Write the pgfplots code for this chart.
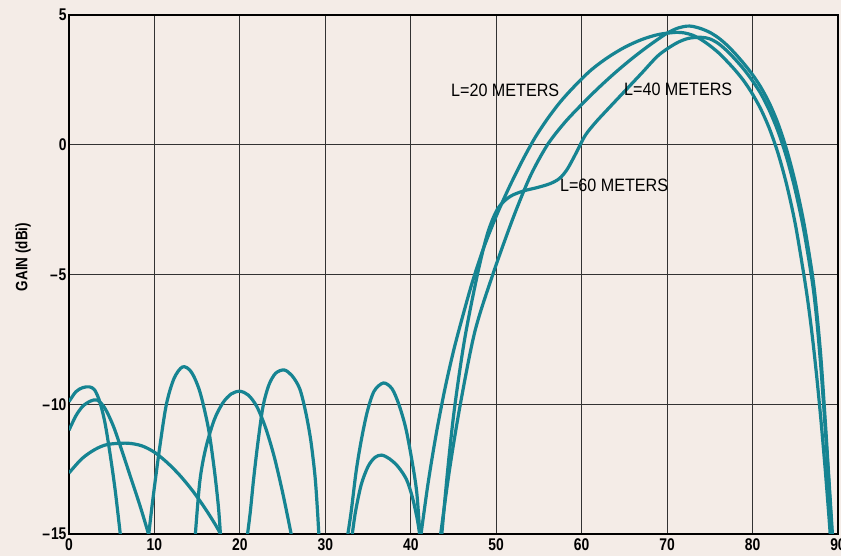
\documentclass[border=0pt]{standalone}
\usepackage{fontspec}
\setmainfont{Liberation Sans}
\newfontfamily\condfont{Liberation Sans}[FakeStretch=0.9]
\newfontfamily\condbold{Liberation Sans Bold}[FakeStretch=0.82]
\usepackage{pgfplots}
\pgfplotsset{compat=1.18}
\usetikzlibrary{backgrounds}
\definecolor{paper}{RGB}{244,236,231}
\definecolor{teal1}{RGB}{22,132,146}
\definecolor{gridc}{RGB}{50,50,50}
\pgfplotsset{curve/.style={color=teal1, line width=3.2bp, smooth, tension=0.5, no markers}}
\newcommand{\mn}{\textendash\kern1bp}
\begin{document}
\begin{tikzpicture}[show background rectangle, background rectangle/.style={fill=paper,draw=none}, inner frame sep=0pt]
\path[use as bounding box] (0,0) rectangle (841bp,556bp);
\begin{axis}[at={(69bp,22bp)}, anchor=south west, scale only axis,
  width=769bp, height=519bp,
  xmin=0, xmax=90, ymin=-15, ymax=5,
  xtick={0,10,...,90}, ytick={-15,-10,-5,0,5},
  xticklabels={0,10,20,30,40,50,60,70,80,90},
  yticklabels={\mn15,\mn10,\mn5,0,5},
  grid=major, major grid style={gridc, line width=1.2bp},
  axis line style={black, line width=2bp},
  major tick length=0pt,
  ticklabel style={font=\fontsize{17}{17}\selectfont\condbold},
  yticklabel style={xshift=1bp},
  xticklabel style={yshift=-1bp},
]
% ---- side lobes ----
% curve A (L=20)
\addplot[curve] coordinates {(0,-12.65)(1.5,-12.1)(3,-11.75)(4.5,-11.55)(6.8,-11.5)(8.5,-11.6)(10,-11.85)(11.5,-12.25)(13,-12.75)(14.5,-13.35)(16,-14.05)(17.5,-14.85)(18.2,-15.4)};
\addplot[curve] coordinates {(20.7,-15.5)(21.2,-14.2)(21.6,-12.9)(22.1,-11.5)(22.7,-10.1)(23.4,-9.25)(24.2,-8.8)(25.2,-8.68)(26.1,-8.9)(27.0,-9.4)(27.7,-10.3)(28.3,-11.4)(28.8,-12.8)(29.1,-14.2)(29.3,-15.4)};
\addplot[curve] coordinates {(32.4,-15.5)(33.0,-14.2)(33.6,-12.6)(34.2,-11.4)(34.9,-10.3)(35.7,-9.5)(36.8,-9.18)(37.8,-9.4)(38.6,-10.0)(39.4,-10.9)(40.1,-12.1)(40.7,-13.4)(41.1,-15.2)};
% curve B (L=40)
\addplot[curve] coordinates {(0,-9.9)(0.8,-9.52)(1.6,-9.36)(2.4,-9.33)(3.0,-9.45)(3.6,-9.9)(4.2,-10.7)(4.8,-11.9)(5.4,-13.3)(6.0,-15)(6.25,-15.8)};
\addplot[curve] coordinates {(14.7,-15.4)(15.3,-13.0)(16,-11.7)(17,-10.6)(18,-9.95)(19,-9.6)(20,-9.5)(21,-9.65)(22,-10.1)(23,-10.9)(24,-12.0)(25,-13.4)(26,-15)(26.2,-15.4)};
\addplot[curve] coordinates {(33.0,-15.4)(33.5,-14.2)(34.2,-13.1)(35.0,-12.4)(35.8,-12.05)(36.6,-11.96)(37.5,-12.1)(38.5,-12.4)(39.5,-12.9)(40.2,-13.6)(40.8,-14.5)(41.2,-15.4)};
% curve C (L=60)
\addplot[curve] coordinates {(0,-11.0)(0.8,-10.45)(1.6,-10.08)(2.5,-9.88)(3.3,-9.84)(4.2,-10.15)(5.2,-10.85)(6.2,-11.8)(7.2,-12.8)(8.3,-13.9)(9.3,-15)(9.55,-15.4)};
\addplot[curve] coordinates {(9.2,-15.4)(9.8,-13.7)(10.6,-11.7)(11.4,-10.0)(12.3,-9.0)(13.3,-8.56)(14.3,-8.75)(15.3,-9.5)(16.3,-10.9)(17.0,-12.5)(17.5,-14.0)(17.8,-15.4)};
% ---- main lobes ----
% A
\addplot[curve] coordinates {(41.0,-15.5)(42,-13.1)(43,-11.1)(44,-9.4)(45,-7.95)(46,-6.7)(47.2,-5.3)(48.5,-4.0)(50,-2.75)(51.5,-1.65)(53,-0.65)(54.5,0.25)(56,1.0)(57.5,1.65)(59,2.2)(61,2.85)(63,3.35)(65,3.75)(67,4.05)(69,4.25)(71,4.33)(72,4.31)(73,4.22)(74,4.05)(75,3.82)(76,3.55)(77,3.22)(78,2.86)(79,2.45)(80,1.95)(81,1.35)(82,0.6)(83,-0.35)(84,-1.55)(85,-3.05)(86,-5.0)(86.5,-6.1)(87,-7.4)(87.5,-8.9)(88,-10.6)(88.5,-12.5)(89,-14.6)(89.2,-15.6)};
% B
\addplot[curve] coordinates {(43.3,-15.5)(44.5,-12.6)(45.8,-10)(47.5,-7.2)(49.6,-5)(52,-2.8)(54,-1.2)(56,0)(58,0.85)(60,1.55)(62,2.2)(64,2.8)(66,3.35)(68,3.85)(70,4.3)(71.3,4.5)(72.3,4.57)(73,4.56)(74,4.47)(75,4.33)(76,4.12)(77,3.84)(78,3.5)(79,3.12)(80,2.7)(81,2.2)(82,1.58)(83,0.8)(84,-0.2)(85,-1.45)(86,-3.0)(87,-5.0)(87.5,-6.4)(88,-8.2)(88.5,-10.6)(89,-13.2)(89.5,-15.8)};
% C
\addplot[curve] coordinates {(43.5,-15.5)(44.3,-12.6)(45.1,-10.2)(46.3,-7.5)(47.8,-5)(49.0,-3.4)(50.2,-2.45)(51.6,-2.0)(53.2,-1.78)(54.8,-1.65)(56.3,-1.5)(57.4,-1.3)(58.3,-0.95)(59.3,-0.35)(60.4,0.35)(61.6,0.85)(63,1.35)(65,2.05)(67,2.75)(69,3.45)(71,3.9)(72.5,4.1)(74,4.14)(75,4.08)(76,3.9)(77,3.62)(78,3.28)(79,2.9)(80,2.46)(81,1.95)(82,1.3)(83,0.5)(84,-0.5)(85,-1.75)(86,-3.3)(87,-5.3)(87.5,-6.7)(88,-8.6)(88.5,-10.9)(89,-13.4)(89.4,-15.6)};
% labels
\node[font=\fontsize{18}{18}\selectfont\condfont] at (axis cs:51.05,2.11) {L=20 METERS};
\node[font=\fontsize{18}{18}\selectfont\condfont] at (axis cs:71.3,2.13) {L=40 METERS};
\node[font=\fontsize{18}{18}\selectfont\condfont] at (axis cs:63.8,-1.55) {L=60 METERS};
\end{axis}
\node[rotate=90, inner sep=0pt, font=\fontsize{16.5}{16.5}\selectfont\condbold] at (23bp,299bp) {GAIN (dBi)};
\end{tikzpicture}
\end{document}
